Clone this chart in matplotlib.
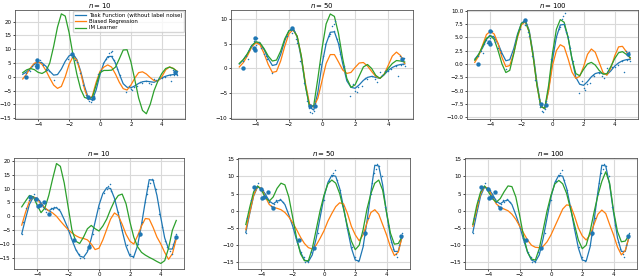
import numpy as np
import matplotlib
matplotlib.use("Agg")
import matplotlib.pyplot as plt

x_grid = [-5.0 + 0.25 * i for i in range(41)]
titles = ["$n = 10$", "$n = 50$", "$n = 100$"]
legend_labels = ["Task Function (without label noise)", "Biased Regression", "IM Learner"]

# ---------------- top row ----------------
top_task = [0.9, 1.8, 3.0, 4.6, 5.3, 5.0, 3.8, 2.0, 0.6, 0.8, 2.8, 5.6, 7.6, 8.2, 6.3, 2.0,
            -3.5, -7.8, -8.4, -4.8, 0.8, 5.0, 7.3, 7.4, 5.0, 1.0, -2.5, -3.8, -4.0, -3.3,
            -2.4, -1.8, -1.6, -1.8, -2.0, -1.3, -0.4, 0.2, 0.6, 0.8, 0.9]
top_biased_10 = [-0.8, 1.0, 3.2, 4.9, 5.4, 4.5, 2.3, -0.5, -3.0, -4.2, -3.5, 0.0, 4.5, 7.3, 6.0,
                 1.5, -4.5, -8.3, -7.0, -2.0, 2.0, 3.5, 4.3, 3.5, 1.0, -2.0, -4.3, -4.8, -3.0,
                 -0.5, 1.5, 1.8, 1.0, -0.3, -1.4, -1.5, 0.0, 2.5, 3.6, 3.0, 2.0]
top_im_10 = [1.5, 2.5, 3.0, 2.6, 1.6, 1.2, 2.0, 5.0, 11.0, 18.0, 22.8, 22.0, 16.0, 8.0, 1.0,
             -4.5, -7.5, -7.9, -7.5, -3.0, 1.5, 2.3, 2.3, 2.4, 3.5, 6.5, 9.7, 9.8, 5.4, -1.0,
             -7.7, -12.2, -13.4, -10.0, -5.0, -1.5, 1.2, 3.0, 3.5, 3.0, 1.8]
top_biased_50 = [0.3, 1.2, 2.6, 4.3, 5.2, 4.8, 3.0, 0.8, -0.8, -0.6, 1.5, 4.5, 7.0, 7.8, 6.5,
                 2.5, -3.0, -7.2, -7.8, -6.0, -2.5, 1.0, 2.8, 2.8, 1.3, -0.3, -1.0, -0.8, 0.2,
                 1.1, 1.2, 0.5, -0.6, -1.6, -2.0, -1.2, 0.6, 2.5, 3.3, 2.6, 1.0]
top_im_50 = [1.0, 1.8, 3.0, 4.6, 5.4, 5.2, 4.0, 2.5, 1.5, 1.7, 3.5, 6.0, 7.6, 7.9, 6.5, 2.5,
             -3.5, -7.8, -7.5, -2.0, 4.0, 9.0, 11.0, 10.5, 7.0, 2.0, -2.0, -3.8, -3.3, -1.5,
             0.3, 0.8, 0.0, -1.4, -2.0, -1.2, 0.0, 1.0, 1.6, 1.5, 1.3]
top_biased_100 = [0.3, 1.5, 3.5, 5.5, 6.1, 5.6, 3.8, 1.2, -0.5, -0.3, 2.0, 5.0, 7.3, 7.9, 6.0,
                  1.5, -4.0, -8.0, -8.3, -5.0, -0.3, 2.5, 3.6, 3.2, 1.0, -1.5, -2.7, -2.3, -0.5,
                  1.8, 2.8, 2.2, 0.3, -1.6, -2.1, -0.8, 1.5, 3.2, 3.3, 2.3, 1.0]
top_im_100 = [0.7, 1.8, 3.3, 4.8, 5.3, 4.6, 2.5, 0.0, -1.6, -1.2, 1.8, 5.3, 7.6, 8.0, 6.0, 1.5,
              -4.0, -8.0, -8.3, -4.0, 2.0, 6.5, 8.3, 7.8, 5.0, 1.0, -1.8, -2.2, -1.0, 0.0,
              0.3, -0.2, -1.2, -1.9, -1.8, -0.5, 1.0, 2.1, 2.3, 1.8, 1.2]

top_small_x = [-4.8, -4.6, -4.5, -4.4, -4.3, -4.2, -4.1, -4.0, -3.9, -3.8, -3.7, -3.5, -3.4,
               -3.3, -3.0, -2.1, -1.9, -1.8, -1.7, -1.6, -1.5, -1.3, -1.1, -0.9, -0.8, -0.7,
               -0.6, -0.5, -0.4, -0.1, 0.05, 0.2, 0.4, 0.5, 0.6, 0.7, 0.75, 0.8, 0.9, 1.0,
               1.1, 1.3, 1.7, 1.9, 2.0, 2.1, 2.2, 2.4, 2.6, 2.7, 3.0, 3.2, 3.3, 3.5, 3.6,
               3.8, 4.0, 4.2, 4.5, 4.6, 4.7, 4.8, 4.9, 5.0, 4.95]
top_small_y = [1.5, 2.5, 2.0, 3.8, 4.5, 4.0, 5.5, 4.8, 6.2, 5.3, 4.2, 3.0, 2.6,
               2.0, -1.0, 6.5, 7.8, 7.2, 7.5, 6.0, 5.2, 1.5, -3.0, -6.5, -8.0, -8.8,
               -9.0, -8.5, -7.0, 1.0, 2.5, 5.0, 6.5, 7.0, 8.5, 9.0, 7.5, 9.5, 6.0, 5.0,
               3.0, 0.5, -5.5, -3.2, -4.5, -4.8, -3.8, -3.5, -2.0, -2.2, -1.6, -2.2, -2.7,
               -0.7, -1.3, -0.5, -0.5, -0.2, 0.5, -1.5, 2.5, 0.8, 1.0, 0.5, 2.2]
top_big_x = [-4.8, -4.05, -4.1, -4.05, -1.8, -0.75, -0.45, 4.85]
top_big_y = [0.0, 6.1, 4.2, 3.7, 8.2, -7.5, -7.6, 1.9]

# ---------------- bottom row ----------------
bot_task = [-6.3, -0.8, 4.3, 6.9, 6.5, 4.8, 2.8, 2.0, 2.8, 3.1, 1.8, -1.2, -4.5, -8.5, -12.0,
            -14.3, -14.8, -12.8, -8.0, -2.0, 4.0, 8.2, 10.3, 10.0, 6.5, 1.0, -5.2, -10.8,
            -14.3, -14.6, -10.5, -3.0, 5.5, 13.2, 13.0, 7.5, -0.5, -7.8, -11.8, -11.8, -7.3]
bot_biased_10 = [-3.2, 1.5, 5.5, 7.0, 6.2, 4.5, 3.0, 2.0, 1.2, 0.0, -1.7, -3.3, -4.8, -6.0,
                 -7.0, -7.7, -8.0, -8.5, -10.0, -12.0, -11.5, -8.5, -4.7, -1.0, 1.2, 0.2,
                 -2.9, -6.5, -9.0, -10.0, -7.0, -3.5, -0.8, -1.0, -4.0, -7.5, -10.0, -13.0,
                 -15.5, -13.5, -8.2]
bot_im_10 = [3.4, 5.5, 7.5, 7.0, 4.0, 1.3, 3.0, 7.5, 13.5, 19.0, 18.0, 12.0, 3.5, -5.0, -9.0,
             -9.8, -7.5, -4.5, -3.3, -4.5, -5.3, -3.5, -1.0, 2.5, 5.5, 7.5, 8.0, 4.5, -2.0,
             -7.5, -11.0, -13.0, -14.0, -14.8, -15.5, -16.3, -17.0, -16.0, -11.5, -5.0, -1.5]
bot_biased_50 = [-5.5, -0.5, 4.5, 7.0, 6.5, 4.0, 1.8, 1.0, 0.7, 0.3, -0.5, -1.8, -3.5, -5.5,
                 -7.7, -9.5, -10.7, -11.1, -10.0, -8.0, -5.8, -3.0, -0.8, 1.2, 2.3, 2.0, -0.8,
                 -4.5, -7.0, -8.7, -7.0, -3.5, -0.5, 0.3, -1.0, -4.0, -7.0, -10.5, -13.0,
                 -12.0, -7.5]
bot_im_50 = [-4.0, 1.0, 5.5, 7.2, 6.0, 3.8, 2.8, 4.0, 6.5, 8.0, 7.5, 4.0, -2.0, -8.0, -12.5,
             -14.5, -14.5, -11.0, -5.5, 0.0, 4.5, 7.8, 8.9, 8.0, 5.0, 0.5, -4.5, -8.8, -11.3,
             -10.0, -5.5, 0.5, 5.0, 8.0, 8.9, 6.0, -0.5, -6.5, -9.7, -9.5, -7.5]
bot_biased_100 = [-4.5, 0.5, 5.0, 7.0, 6.3, 4.0, 2.0, 1.0, 0.5, 0.0, -1.0, -2.5, -4.5, -6.5,
                  -8.5, -10.0, -10.6, -10.7, -10.3, -9.0, -7.0, -4.5, -2.0, 0.5, 1.7, 1.5,
                  -1.5, -5.0, -7.3, -8.5, -7.0, -4.0, -1.0, 0.2, -0.8, -4.0, -7.0, -10.5,
                  -12.8, -11.5, -7.5]
bot_im_100 = [-4.0, 1.5, 5.5, 7.2, 5.5, 3.5, 2.5, 3.5, 5.5, 7.2, 7.0, 4.0, -1.5, -7.5, -12.0,
              -14.0, -14.3, -11.0, -5.5, 0.0, 4.5, 7.8, 8.8, 7.8, 5.0, 0.5, -4.0, -8.5, -11.0,
              -10.0, -6.0, -0.5, 4.5, 8.5, 11.3, 8.0, 0.0, -6.0, -9.0, -8.8, -7.0]

bot_small_x = [-5.0, -4.9, -4.7, -4.5, -4.4, -4.3, -4.2, -4.0, -3.9, -3.8, -3.7, -3.6, -3.5,
               -3.4, -3.3, -3.2, -3.1, -3.0, -2.9, -2.8, -2.6, -2.0, -1.8, -1.7, -1.5, -1.3,
               -1.2, -1.0, -0.8, -0.6, -0.4, 0.0, 0.3, 0.5, 0.6, 0.7, 0.8, 1.0, 1.2, 1.5,
               1.8, 2.0, 2.2, 2.5, 2.6, 2.8, 3.0, 3.1, 3.2, 3.3, 3.4, 3.5, 3.7, 3.9, 4.1,
               4.3, 4.4, 4.6, 4.7, 4.8, 4.9, 5.0]
bot_small_y = [-6.5, -2.0, 3.0, 6.0, 6.5, 7.0, 8.0, 6.5, 6.0, 5.0, 4.0, 3.5, 2.5,
               1.5, 1.0, 2.0, 3.0, 2.5, 3.2, 3.5, 2.5, -5.0, -8.0, -9.0, -12.0, -13.5,
               -15.0, -15.0, -12.0, -10.5, -6.5, 3.0, 8.5, 10.0, 11.0, 11.8, 9.0, 6.0, 1.5,
               -5.0, -10.5, -13.5, -14.5, -10.0, -7.0, -2.0, 5.0, 8.0, 11.0, 12.0, 13.5,
               13.0, 10.0, 1.0, -4.0, -9.0, -11.0, -12.5, -13.5, -10.0, -8.0, -6.5]
bot_big_x = [-4.45, -4.05, -3.95, -3.85, -3.55, -3.25, -1.6, -0.65, 2.65, 4.95]
bot_big_y = [6.8, 6.3, 3.7, 3.9, 5.3, 0.8, -8.4, -10.9, -6.5, -7.4]

rows = [
    dict(task=top_task, biased=[top_biased_10, top_biased_50, top_biased_100],
         im=[top_im_10, top_im_50, top_im_100],
         sx=top_small_x, sy=top_small_y, bx=top_big_x, by=top_big_y,
         ylims=[(-15.3, 24.2), (-10.2, 11.8), (-10.3, 10.1)],
         yticks=[np.arange(-15, 21, 5), np.arange(-10, 11, 5), np.arange(-10, 10.1, 2.5)],
         fmt=["{:.0f}", "{:.0f}", "{:.1f}"],
         rects=[(15, 185, 10, 119), (231, 413, 10, 119), (467, 638, 10, 119)]),
    dict(task=bot_task, biased=[bot_biased_10, bot_biased_50, bot_biased_100],
         im=[bot_im_10, bot_im_50, bot_im_100],
         sx=bot_small_x, sy=bot_small_y, bx=bot_big_x, by=bot_big_y,
         ylims=[(-19.0, 21.0), (-16.9, 15.3), (-16.9, 15.3)],
         yticks=[np.arange(-15, 21, 5), np.arange(-15, 16, 5), np.arange(-15, 16, 5)],
         fmt=["{:.0f}", "{:.0f}", "{:.0f}"],
         rects=[(14, 184, 158, 269), (238, 410, 158, 269), (465, 637, 158, 269)]),
]

W, H = 640, 277
fig = plt.figure(figsize=(W / 100, H / 100), dpi=100)
blue, orange, green = "#1f77b4", "#ff7f0e", "#2ca02c"

for r, row in enumerate(rows):
    for c in range(3):
        l, rr, t, b = row["rects"][c]
        ax = fig.add_axes([l / W, 1 - b / H, (rr - l) / W, (b - t) / H])
        ax.scatter(row["sx"], row["sy"], s=1.2, color=blue, zorder=3, linewidths=0)
        ax.scatter(row["bx"], row["by"], s=10, color=blue, zorder=4, linewidths=0)
        ax.plot(x_grid, row["task"], color=blue, lw=0.9, label=legend_labels[0], zorder=2)
        ax.plot(x_grid, row["biased"][c], color=orange, lw=0.9, label=legend_labels[1], zorder=2)
        ax.plot(x_grid, row["im"][c], color=green, lw=0.9, label=legend_labels[2], zorder=2)
        ax.set_xlim(-5.5, 5.5)
        ax.set_ylim(*row["ylims"][c])
        ax.set_xticks([-4, -2, 0, 2, 4])
        yt = row["yticks"][c]
        ax.set_yticks(yt)
        ax.set_yticklabels([row["fmt"][c].format(v).replace("-", "\u2212") for v in yt])
        ax.tick_params(labelsize=4, length=1.5, width=0.5, pad=1)
        ax.grid(True, color="#d9d9d9", lw=0.8)
        ax.set_axisbelow(True)
        for sp in ax.spines.values():
            sp.set_linewidth(0.6)
            sp.set_color("#555555")
        ax.set_title(titles[c], fontsize=5, pad=1.5)
        if r == 0 and c == 0:
            ax.legend(loc="upper right", fontsize=3.9, handlelength=2.0, borderpad=0.3,
                      labelspacing=0.25, handletextpad=0.6, borderaxespad=0.2)

fig.savefig("out.png", dpi=100)
